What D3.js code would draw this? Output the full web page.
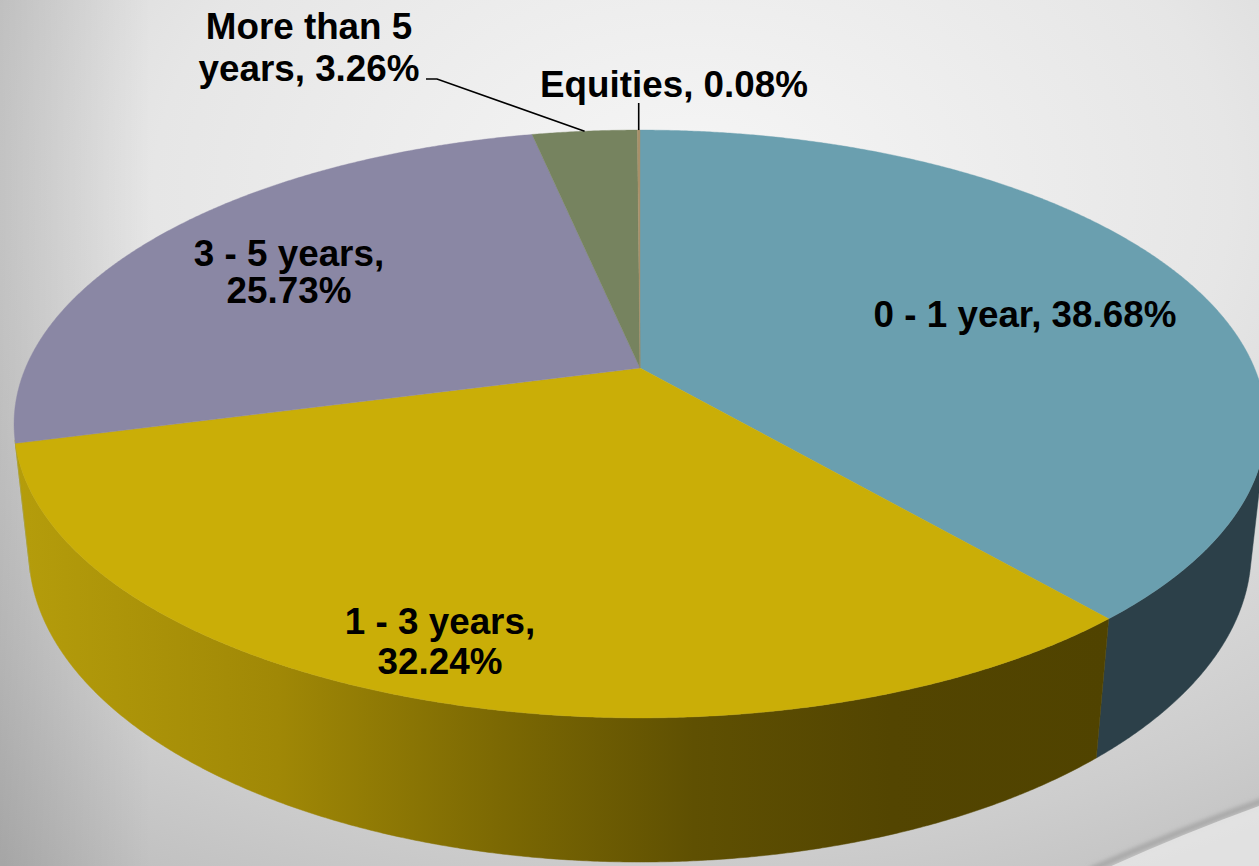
<!DOCTYPE html>
<html>
<head>
<meta charset="utf-8">
<script src="https://cdn.jsdelivr.net/npm/d3@7"></script>
<style>
  html, body { margin: 0; padding: 0; overflow: hidden; }
  body { width: 1259px; height: 866px; }
  svg { display: block; }
</style>
</head>
<body>
<svg id="chart" width="1259" height="866"></svg>
<script>
// ---- data ----
const categories = ["0 - 1 year", "1 - 3 years", "3 - 5 years", "More than 5 years", "Equities"];
const values = [38.68, 32.24, 25.73, 3.26, 0.08];
const labelLines = [
  ["0 - 1 year, 38.68%"],
  ["1 - 3 years,", "32.24%"],
  ["3 - 5 years,", "25.73%"],
  ["More than 5", "years, 3.26%"],
  ["Equities, 0.08%"]
];
const topColors = ["#6A9FAF", "#CAAE07", "#8A87A4", "#76835F", "#A8916A"];
const sideColors = ["#2C4049", "url(#wallYellow)", "#A8A13A", "#4F5940", "#6E5F45"];

// ---- layout (label anchors: centre x, first baseline y) ----
const labelAnchor = [[1025, 327], [440, 634], [289, 266], [309, 39], [674, 97]];
const lineGap = [0, 40, 37, 42, 0];
const leaderLabelEnd = [null, null, null, [426, 79], [640, 103]];

const W = 1259, H = 866;
const svg = d3.select("#chart");
const defs = svg.append("defs");

// background
const bg = defs.append("radialGradient").attr("id", "bgGrad")
  .attr("cx", "0.55").attr("cy", "0.22").attr("r", "0.95");
bg.append("stop").attr("offset", "0").attr("stop-color", "#f6f6f6");
bg.append("stop").attr("offset", "0.45").attr("stop-color", "#e6e6e6");
bg.append("stop").attr("offset", "0.8").attr("stop-color", "#cdcdcd");
bg.append("stop").attr("offset", "1").attr("stop-color", "#bcbcbc");
svg.append("rect").attr("width", W).attr("height", H).attr("fill", "url(#bgGrad)");

const side = defs.append("linearGradient").attr("id", "sideShade")
  .attr("x1", 0).attr("x2", 1).attr("y1", 0).attr("y2", 0);
side.append("stop").attr("offset", 0).attr("stop-color", "#000").attr("stop-opacity", 0.12);
side.append("stop").attr("offset", 0.12).attr("stop-color", "#000").attr("stop-opacity", 0);
side.append("stop").attr("offset", 1).attr("stop-color", "#000").attr("stop-opacity", 0);
svg.append("rect").attr("width", W).attr("height", H).attr("fill", "url(#sideShade)");

// bottom-right slide swoosh
const blur = defs.append("filter").attr("id", "blur").attr("x", "-20%").attr("y", "-20%").attr("width", "140%").attr("height", "140%");
blur.append("feGaussianBlur").attr("stdDeviation", 2.5);
svg.append("path")
  .attr("d", "M1270,798 Q1180,830 1090,870")
  .attr("fill", "none").attr("stroke", "#9a9a9a").attr("stroke-width", 4)
  .attr("filter", "url(#blur)");
svg.append("path")
  .attr("d", "M1270,802 Q1180,834 1094,874 L1270,874 Z")
  .attr("fill", "#e4e4e4").attr("opacity", 0.9);

// wall gradient for the yellow slice
const wy = defs.append("linearGradient").attr("id", "wallYellow")
  .attr("gradientUnits", "userSpaceOnUse")
  .attr("x1", 15).attr("x2", 1110).attr("y1", 0).attr("y2", 0);
[[0, "#B59D0B"], [0.24, "#A08806"], [0.44, "#7C6903"], [0.62, "#5F5002"], [0.8, "#534501"], [1, "#504300"]]
  .forEach(([o, c]) => wy.append("stop").attr("offset", o).attr("stop-color", c));

// ---- perspective projection of the pie ----
const phi = 27.45 * Math.PI / 180, sP = Math.sin(phi), cP = Math.cos(phi);
const Dist = 4.659, K = 2863, CX = 640, CY = 368, thick = 0.235;
function proj(theta, r, z) {
  const X = r * Math.sin(theta), Y = r * Math.cos(theta);
  const v = Y * sP + z * cP, d = Y * cP - z * sP;
  const sc = K / (Dist + d);
  return [CX + X * sc, CY - v * sc];
}
function arcPts(a0, a1, z) {
  const n = Math.max(2, Math.ceil((a1 - a0) / 0.005));
  return d3.range(n + 1).map(i => proj(a0 + (a1 - a0) * i / n, 1, z));
}

const pie = d3.pie().sort(null).value(d => d);
const arcs = pie(values);
const line = d3.line();

// visible (front-facing) wall range
const tMin = Math.acos(-1 / (Dist * cP)), tMax = 2 * Math.PI - tMin;

const walls = svg.append("g");
arcs.forEach((a, i) => {
  const a0 = Math.max(a.startAngle, tMin), a1 = Math.min(a.endAngle, tMax);
  if (a1 <= a0) return;
  const topP = arcPts(a0, a1, 0);
  const botP = arcPts(a0, a1, -thick).reverse();
  walls.append("path").attr("d", line(topP.concat(botP)) + "Z")
    .attr("fill", sideColors[i]).attr("stroke", sideColors[i]).attr("stroke-width", 0.5);
});

const tops = svg.append("g");
arcs.forEach((a, i) => {
  const pts = [proj(0, 0, 0)].concat(arcPts(a.startAngle, a.endAngle, 0));
  tops.append("path").attr("d", line(pts) + "Z")
    .attr("fill", topColors[i]).attr("stroke", topColors[i]).attr("stroke-width", 0.4);
});

// leader lines
const leaders = svg.append("g");
arcs.forEach((a, i) => {
  if (!leaderLabelEnd[i]) return;
  const mid = (a.startAngle + a.endAngle) / 2;
  const rim = proj(mid, 1, 0);
  const end = leaderLabelEnd[i];
  let pts;
  if (Math.abs(end[0] - rim[0]) < 3) pts = [rim, [rim[0], end[1]]];
  else pts = [rim, [end[0] + 11, end[1]], end];
  leaders.append("path").attr("d", line(pts)).attr("fill", "none")
    .attr("stroke", "#000").attr("stroke-width", 1.6);
});

// labels
const labels = svg.append("g")
  .attr("font-family", "'Liberation Sans', Arial, sans-serif")
  .attr("font-weight", "bold").attr("font-size", 36.8).attr("fill", "#000")
  .attr("text-anchor", "middle");
labelLines.forEach((lines, i) => {
  const t = labels.append("text").attr("x", labelAnchor[i][0]).attr("y", labelAnchor[i][1]);
  lines.forEach((s, j) => {
    t.append("tspan").attr("x", labelAnchor[i][0]).attr("dy", j === 0 ? 0 : lineGap[i]).text(s);
  });
});
</script>
</body>
</html>
